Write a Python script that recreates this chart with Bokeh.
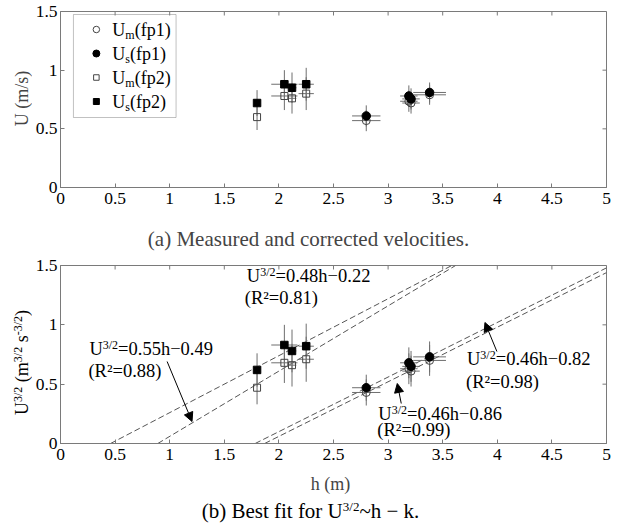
import math
from bokeh.plotting import figure
from bokeh.models import (Range1d, FixedTicker, CustomJSTickFormatter, Label,
                          Arrow, NormalHead, BoxAnnotation)
from bokeh.layouts import column, row
from bokeh.embed import file_html
from bokeh.resources import INLINE

# ---------------- data ----------------
h_fp1 = [2.80, 3.19, 3.21, 3.38]
h_fp2 = [1.80, 2.05, 2.12, 2.25]
h_err_fp1 = [0.13, 0.08, 0.08, 0.15]
h_err_fp2 = [0.0, 0.12, 0.04, 0.07]

U_m_fp1 = [0.57, 0.735, 0.72, 0.79]
U_s_fp1 = [0.61, 0.78, 0.755, 0.81]
U_m_fp2 = [0.60, 0.78, 0.76, 0.80]
U_s_fp2 = [0.72, 0.88, 0.85, 0.88]
U_err_fp1 = [0.09, 0.09, 0.09, 0.085]
U_err_fp2 = [0.11, 0.12, 0.13, 0.14]

U32_m_fp1 = [0.43, 0.63, 0.61, 0.70]
U32_s_fp1 = [0.47, 0.68, 0.65, 0.73]
U32_m_fp2 = [0.47, 0.68, 0.66, 0.71]
U32_s_fp2 = [0.62, 0.83, 0.78, 0.82]
U32_err_fp1 = [0.11, 0.13, 0.13, 0.13]
U32_err_fp2 = [0.14, 0.17, 0.18, 0.19]

fit_slope = [0.48, 0.55, 0.46, 0.46]
fit_intercept = [-0.22, -0.49, -0.82, -0.86]
fit_r2 = ["0.81", "0.88", "0.98", "0.99"]

legend_subs = ["m", "s", "m", "s"]
legend_tails = ["(fp1)", "(fp1)", "(fp2)", "(fp2)"]

x_ticks = [0, 0.5, 1, 1.5, 2, 2.5, 3, 3.5, 4, 4.5, 5]
y_ticks = [0, 0.5, 1, 1.5]
X_MIN, X_MAX, Y_MIN, Y_MAX = 0, 5, 0, 1.5

# ---------------- layout constants (page px) ----------------
FONT = "Liberation Serif"
PAGE_W = 617
LAB_W = 32
L_PX, R_PX = 58, 606
F1_TOP, F1_BOT = 11, 187
F2_TOP, F2_BOT = 265, 443
ROW1_Y, ROW1_H = 0, 214
CAP1_H = 39
ROW2_Y, ROW2_H = 253, 217
CAP2_Y, CAP2_H = 470, 55
AX = "#7a7a7a"
EB = "#6e6e6e"

CW = {' ': 250, '(': 333, ')': 333, '.': 250, ',': 250, '/': 278, '=': 564, '~': 541,
      '\u2212': 564, '-': 333, '\u00b2': 300, 'U': 722, 'R': 667, 'B': 667, 'h': 500,
      'k': 500, 'm': 778, 's': 389, 'e': 444, 't': 278, 'f': 333, 'o': 500, 'r': 333,
      'i': 278, 'b': 500, 'a': 444, 'p': 500, 'n': 500, 'c': 444, 'd': 500, 'l': 278,
      'u': 500, 'v': 500, 'M': 889, 'y': 500}


def tw(s, size):
    return sum(CW.get(c, 500) for c in s) / 1000.0 * size


def to_data(px, py, top, bot):
    return ((px - L_PX) / (R_PX - L_PX) * (X_MAX - X_MIN) + X_MIN,
            (bot - py) / (bot - top) * (Y_MAX - Y_MIN) + Y_MIN)


def rich(p, x, y, segs, angle=0.0, level="overlay"):
    # (x, y) is the left end / vertical centre of the run of text
    adv = 0.0
    for text, size, shift in segs:
        stripped = text.lstrip(" ")
        adv += tw(text[:len(text) - len(stripped)], size)
        if angle == 0.0:
            xo, yo = adv, shift
        else:
            xo, yo = -shift, adv
        p.add_layout(Label(x=x, y=y, x_offset=xo, y_offset=yo, text=stripped, angle=angle,
                           text_font=FONT, text_font_size=f"{size}px", text_color="black",
                           text_align="left", text_baseline="middle", level=level))
        adv += tw(stripped, size)
    return adv


def no_align(p):
    if "frame_align" in p.properties():
        p.frame_align = False


def text_fig(w, h):
    p = figure(width=w, height=h, x_range=Range1d(0, w), y_range=Range1d(0, h),
               output_backend="svg", toolbar_location=None, min_border=0,
               x_axis_type=None, y_axis_type=None)
    p.outline_line_color = None
    p.background_fill_color = "white"
    p.border_fill_color = "white"
    no_align(p)
    return p


def make_fig(ftop, fbot, figy, height):
    width = PAGE_W - LAB_W
    p = figure(width=width, height=height, x_range=Range1d(X_MIN, X_MAX),
               y_range=Range1d(Y_MIN, Y_MAX), output_backend="svg", toolbar_location=None,
               min_border_left=L_PX - LAB_W, min_border_right=PAGE_W - R_PX,
               min_border_top=ftop - figy, min_border_bottom=figy + height - fbot)
    no_align(p)
    p.xgrid.visible = False
    p.ygrid.visible = False
    p.outline_line_color = AX
    p.background_fill_color = "white"
    p.border_fill_color = "white"
    fmt = "return String(tick);"
    for ax, tk in ((p.xaxis[0], x_ticks), (p.yaxis[0], y_ticks)):
        ax.ticker = FixedTicker(ticks=tk)
        ax.formatter = CustomJSTickFormatter(code=fmt)
        ax.major_tick_in = 4
        ax.major_tick_out = 0
        ax.minor_tick_line_color = None
        ax.axis_line_color = AX
        ax.major_tick_line_color = AX
        ax.major_label_text_font = FONT
        ax.major_label_text_font_size = "17.5px"
        ax.major_label_text_color = "black"
    p.xaxis[0].major_label_standoff = 5
    p.yaxis[0].major_label_standoff = 3
    # mirrored inward ticks on the top and right edges
    p.ray(x=x_ticks, y=[Y_MAX] * len(x_ticks), length=4, length_units="screen",
          angle=-math.pi / 2, line_color=AX, line_width=1)
    p.ray(x=[X_MAX] * len(y_ticks), y=y_ticks, length=4, length_units="screen",
          angle=math.pi, line_color=AX, line_width=1)
    return p


def errbars(p, hs, he, ys, ye):
    p.segment(x0=hs, x1=hs, y0=[y - e for y, e in zip(ys, ye)], y1=[y + e for y, e in zip(ys, ye)],
              line_color=EB, line_width=1)
    p.segment(x0=[h - e for h, e in zip(hs, he)], x1=[h + e for h, e in zip(hs, he)], y0=ys, y1=ys,
              line_color=EB, line_width=1)


MARKERS = [dict(marker="circle", size=8, fill_color=None, line_color="#444"),
           dict(marker="circle", size=8.5, fill_color="black", line_color="black"),
           dict(marker="square", size=7, fill_color=None, line_color="#444"),
           dict(marker="square", size=7.5, fill_color="black", line_color="black")]

# ================= panel (a) =================
p1 = make_fig(F1_TOP, F1_BOT, ROW1_Y, ROW1_H)
for ys in (U_m_fp1, U_s_fp1):
    errbars(p1, h_fp1, h_err_fp1, ys, U_err_fp1)
for ys in (U_m_fp2, U_s_fp2):
    errbars(p1, h_fp2, h_err_fp2, ys, U_err_fp2)

for hs, ys, st in ((h_fp1, U_m_fp1, MARKERS[0]), (h_fp1, U_s_fp1, MARKERS[1]),
                   (h_fp2, U_m_fp2, MARKERS[2]), (h_fp2, U_s_fp2, MARKERS[3])):
    p1.scatter(hs, ys, **st)

# legend (box, keys and texts with subscripts)
bl, bt = to_data(71, 14, F1_TOP, F1_BOT)
br, bb = to_data(174, 117, F1_TOP, F1_BOT)
p1.add_layout(BoxAnnotation(left=bl, right=br, top=bt, bottom=bb, fill_color="white",
                            fill_alpha=1.0, line_color="#333", line_width=1, level="underlay"))
for i, (sub, tail) in enumerate(zip(legend_subs, legend_tails)):
    ky = 29 + 24 * i
    kx, kyd = to_data(94, ky, F1_TOP, F1_BOT)
    st = dict(MARKERS[i])
    st["size"] = st["size"] - 1.5
    p1.scatter([kx], [kyd], **st)
    lx, ly = to_data(110, ky, F1_TOP, F1_BOT)
    rich(p1, lx, ly, [("U", 18, 0), (sub, 12, -5.5), (tail, 18, 0)])

ylab1 = text_fig(LAB_W, ROW1_H)
ylab1.add_layout(Label(x=21, y=ROW1_H - 98, text="U (m/s)", angle=math.pi / 2, text_font=FONT,
                       text_font_size="18px", text_align="center", text_baseline="middle"))

cap1 = text_fig(PAGE_W, CAP1_H)
cap1.add_layout(Label(x=308, y=CAP1_H - (238 - (ROW1_Y + ROW1_H)),
                      text="(a) Measured and corrected velocities.", text_font=FONT,
                      text_font_size="21px", text_align="center", text_baseline="middle"))

# ================= panel (b) =================
p2 = make_fig(F2_TOP, F2_BOT, ROW2_Y, ROW2_H)

for a, b in zip(fit_slope, fit_intercept):
    h0 = max(X_MIN, (Y_MIN - b) / a)
    h1 = min(X_MAX, (Y_MAX - b) / a)
    p2.line([h0, h1], [a * h0 + b, a * h1 + b], line_color="#555", line_width=1, line_dash="6 3")

for ys in (U32_m_fp1, U32_s_fp1):
    errbars(p2, h_fp1, h_err_fp1, ys, U32_err_fp1)
for ys in (U32_m_fp2, U32_s_fp2):
    errbars(p2, h_fp2, h_err_fp2, ys, U32_err_fp2)

for hs, ys, st in ((h_fp1, U32_m_fp1, MARKERS[0]), (h_fp1, U32_s_fp1, MARKERS[1]),
                   (h_fp2, U32_m_fp2, MARKERS[2]), (h_fp2, U32_s_fp2, MARKERS[3])):
    p2.scatter(hs, ys, **st)

# equation annotations (page pixel anchors: left, vertical centre)
eq_pos = [((245, 275), (243, 297)),
          ((87, 348), (86, 370)),
          ((466, 358), (465, 381)),
          ((377, 413), (376, 429))]
for (a, b, r2, (l1, l2)) in zip(fit_slope, fit_intercept, fit_r2, eq_pos):
    x, y = to_data(*l1, F2_TOP, F2_BOT)
    rich(p2, x, y, [("U", 18.5, 0), ("3/2", 12, 3.5), (f"={a:.2f}h\u2212{abs(b):.2f}", 18.5, 0)])
    x, y = to_data(*l2, F2_TOP, F2_BOT)
    rich(p2, x, y, [(f"(R\u00b2={r2})", 18.5, 0)])

arrows = [((165, 361), (190, 421)), ((496, 351), (484, 322)), ((400, 403), (396, 383))]
for (t, hd) in arrows:
    xs, ys_ = to_data(*t, F2_TOP, F2_BOT)
    xe, ye = to_data(*hd, F2_TOP, F2_BOT)
    p2.add_layout(Arrow(end=NormalHead(size=9, fill_color="black", line_color="black", line_width=1),
                        x_start=xs, y_start=ys_, x_end=xe, y_end=ye,
                        line_color="black", line_width=1))

ylab2 = text_fig(LAB_W, ROW2_H)
ysegs = [("U", 18, 0), ("3/2", 12, 3.5), (" (m", 18, 0), ("3/2", 12, 3.5), (" s", 18, 0),
         ("-3/2", 12, 3.5), (")", 18, 0)]
tot = sum(tw(t, s) for t, s, _ in ysegs)
rich(ylab2, 21, ROW2_H - (362 - ROW2_Y) - tot / 2, ysegs, angle=math.pi / 2)

cap2 = text_fig(PAGE_W, CAP2_H)
cap2.add_layout(Label(x=330, y=CAP2_H - (483 - CAP2_Y), text="h (m)", text_font=FONT,
                      text_font_size="18px", text_align="center", text_baseline="middle"))
csegs = [("(b) Best fit for U", 21, 0), ("3/2", 13, 4), ("~h \u2212 k.", 21, 0)]
tot = sum(tw(t, s) for t, s, _ in csegs)
rich(cap2, 310 - tot / 2, CAP2_H - (510 - CAP2_Y), csegs)

layout = column(row(ylab1, p1), cap1, row(ylab2, p2), cap2)
open("out.html", "w").write(file_html(layout, INLINE))
